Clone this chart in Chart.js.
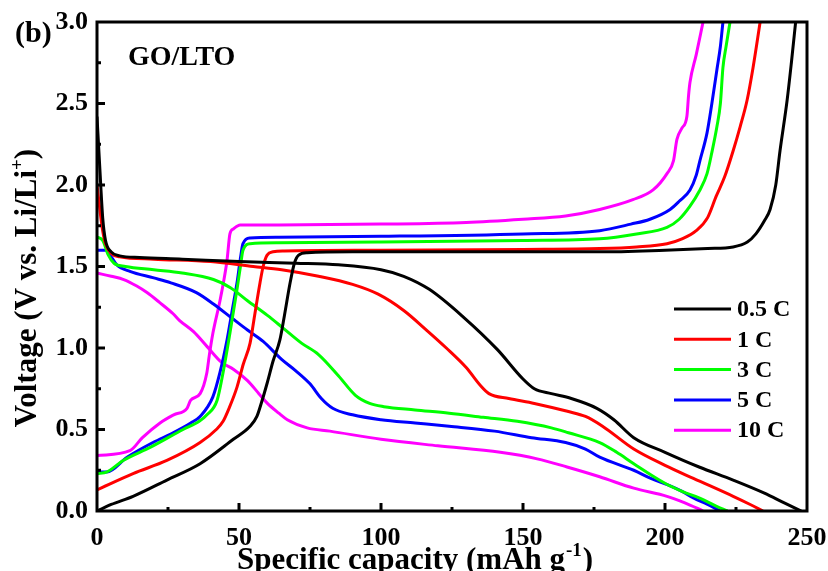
<!DOCTYPE html>
<html>
<head>
<meta charset="utf-8">
<script src="https://cdn.jsdelivr.net/npm/chart.js@4.4.0/dist/chart.umd.min.js"></script>
<style>
  html, body { margin: 0; padding: 0; background: #fff; }
  #wrap { width: 828px; height: 571px; }
</style>
</head>
<body>
<div id="wrap"><canvas id="gcdChart" width="828" height="571"></canvas></div>
<script>
// rate labels and colours
const rates = ["0.5 C", "1 C", "3 C", "5 C", "10 C"];
const rateColors = ["#000000", "#ff0000", "#00ff00", "#0000ff", "#ff00ff"];

// axis ticks
const xTicks = [0, 50, 100, 150, 200, 250];
const yTicks = [0.0, 0.5, 1.0, 1.5, 2.0, 2.5, 3.0];

// discharge curves [capacity, voltage]
const dis05 = [[0,2.42],[1,2.1],[2,1.8],[3,1.66],[5,1.59],[8,1.565],[15,1.555],[30,1.545],[50,1.53],[70,1.52],[85,1.51],[100,1.48],[108,1.44],[117,1.36],[129,1.19],[141,0.99],[150,0.81],[154,0.75],[160,0.72],[167,0.69],[176,0.63],[182,0.56],[189,0.45],[200,0.36],[212,0.27],[224,0.19],[235,0.11],[242,0.05],[248,0.0]];
const dis1 = [[0,2.0],[1,1.85],[2,1.72],[3,1.64],[5,1.58],[8,1.56],[20,1.545],[40,1.53],[55,1.5],[65,1.48],[78,1.44],[90,1.39],[99,1.33],[108,1.23],[116,1.11],[123,1.0],[130,0.88],[135,0.77],[138,0.72],[145,0.69],[154,0.66],[166,0.61],[172,0.58],[178,0.52],[189,0.38],[200,0.28],[210,0.2],[224,0.09],[230,0.04],[234.5,0.0]];
const dis3 = [[0,1.68],[2,1.66],[4,1.57],[6,1.52],[10,1.5],[20,1.48],[30,1.46],[41,1.42],[47,1.37],[53,1.29],[60,1.2],[65,1.13],[72,1.03],[78,0.96],[85,0.83],[91,0.71],[96,0.66],[101,0.64],[112,0.62],[124,0.6],[136,0.575],[148,0.55],[160,0.51],[166,0.48],[177,0.42],[183,0.36],[189,0.29],[200,0.17],[206,0.12],[212,0.08],[218,0.03],[222,0.0]];
const dis5 = [[0,1.6],[3.5,1.6],[5,1.56],[7,1.51],[11.6,1.47],[20,1.43],[26,1.4],[35,1.34],[41,1.27],[47,1.19],[53,1.11],[58.5,1.04],[65,0.93],[70,0.86],[75,0.78],[79,0.69],[83,0.63],[90,0.59],[100,0.56],[112,0.54],[124,0.52],[140,0.49],[153,0.45],[165,0.42],[172,0.38],[177,0.33],[189,0.25],[195,0.2],[201,0.16],[206,0.12],[210,0.08],[215,0.04],[219.5,0.0]];
const dis10 = [[0,1.46],[5,1.44],[9.4,1.42],[14,1.38],[17.6,1.34],[22,1.28],[26.8,1.21],[29,1.17],[34,1.1],[38.7,1.01],[44,0.91],[48,0.87],[53,0.8],[57,0.72],[60,0.66],[64,0.6],[67,0.56],[74,0.51],[82,0.49],[100,0.44],[120,0.4],[142,0.36],[155,0.32],[165.5,0.27],[177,0.21],[189,0.14],[200.7,0.09],[207,0.05],[213.4,0.0]];

// charge curves [capacity, voltage]
const chg05 = [[0,0.0],[5,0.04],[12.7,0.09],[24.6,0.19],[36.3,0.29],[48,0.44],[53.9,0.52],[56.3,0.58],[58,0.67],[60,0.79],[62,0.92],[64.4,1.05],[66,1.2],[68,1.4],[69.5,1.52],[71,1.57],[74,1.585],[90,1.59],[120,1.59],[150,1.59],[177,1.59],[200,1.6],[215,1.61],[224,1.62],[229,1.65],[232,1.7],[235,1.78],[237,1.85],[239,2.0],[240.5,2.21],[243,2.52],[244.5,2.75],[246,3.0]];
const chg1 = [[0,0.13],[12.7,0.23],[24.6,0.31],[36.3,0.42],[42,0.5],[44.4,0.55],[46.5,0.63],[49.3,0.76],[51.5,0.9],[53.9,1.03],[55.5,1.2],[57.4,1.4],[58.5,1.5],[59.9,1.57],[62,1.59],[66,1.595],[100,1.6],[150,1.605],[177,1.61],[190,1.62],[200.7,1.64],[206,1.67],[211,1.72],[215,1.8],[218,1.93],[221,2.05],[224,2.21],[226.5,2.36],[228.9,2.52],[231,2.72],[233.5,3.0]];
const chg3 = [[0,0.23],[3.5,0.24],[9.2,0.31],[18.7,0.39],[30.3,0.5],[36,0.55],[38.7,0.59],[42.3,0.68],[44.4,0.85],[46.8,1.09],[49.3,1.36],[50.5,1.5],[51.4,1.6],[53.9,1.64],[64,1.645],[100,1.65],[150,1.66],[177,1.67],[190,1.7],[200.7,1.74],[205,1.79],[208.8,1.87],[212,1.96],[214.8,2.07],[216.5,2.2],[218.3,2.36],[219.5,2.5],[220.4,2.72],[221.5,2.85],[222.9,3.0]];
const chg5 = [[0,0.24],[3.5,0.24],[10.6,0.33],[19.7,0.42],[26.8,0.48],[33,0.54],[36.3,0.58],[40.8,0.7],[43.3,0.85],[45.8,1.05],[47.5,1.22],[49.3,1.4],[50.5,1.55],[51.4,1.64],[53.9,1.675],[64,1.68],[100,1.685],[150,1.7],[177,1.72],[188,1.76],[194.7,1.79],[201.8,1.85],[205,1.9],[208.8,1.97],[211,2.06],[212.3,2.15],[214.8,2.32],[216.5,2.5],[218.3,2.71],[219.5,2.85],[220.4,3.0]];
const chg10 = [[0,0.34],[11.6,0.37],[16,0.45],[22.2,0.54],[27,0.59],[31.7,0.63],[33,0.68],[36.3,0.72],[38.7,0.85],[39.5,0.95],[40.8,1.09],[43.3,1.29],[44.5,1.4],[45.8,1.54],[46.8,1.7],[48,1.73],[50.4,1.755],[64,1.755],[100,1.76],[130,1.77],[150,1.79],[165,1.81],[177,1.85],[188.7,1.91],[195.8,1.97],[200.7,2.07],[203,2.15],[204.2,2.28],[206,2.35],[207.7,2.42],[208.3,2.55],[208.8,2.63],[211,2.8],[213.4,3.0]];

const dischargeCurves = [dis05, dis1, dis3, dis5, dis10];
const chargeCurves = [chg05, chg1, chg3, chg5, chg10];

const SERIF = "'Liberation Serif', 'Times New Roman', serif";

function toPoints(arr) {
  return arr.map((p) => ({ x: p[0], y: p[1] }));
}

const datasets = [];
rates.forEach((rate, i) => {
  [dischargeCurves[i], chargeCurves[i]].forEach((curve) => {
    datasets.push({
      label: rate,
      data: toPoints(curve),
      borderColor: rateColors[i],
      borderWidth: 3,
      pointRadius: 0,
      fill: false,
      cubicInterpolationMode: "monotone",
    });
  });
});

// frame, inward ticks, titles, legend and labels
const decorPlugin = {
  id: "decor",
  afterDraw(chart) {
    const ctx = chart.ctx;
    const a = chart.chartArea;
    const xs = chart.scales.x;
    const ys = chart.scales.y;
    ctx.save();
    ctx.strokeStyle = "#000";
    ctx.lineWidth = 3;
    ctx.strokeRect(a.left, a.top, a.right - a.left, a.bottom - a.top);

    for (let v = 25; v < 250; v += 25) {
      const px = xs.getPixelForValue(v);
      const len = v % 50 === 0 ? 8 : 4;
      ctx.beginPath();
      ctx.moveTo(px, a.bottom);
      ctx.lineTo(px, a.bottom - len);
      ctx.stroke();
    }
    for (let v = 0.25; v < 3; v += 0.25) {
      const py = ys.getPixelForValue(v);
      const len = Math.abs(v / 0.5 - Math.round(v / 0.5)) < 0.01 ? 8 : 4;
      ctx.beginPath();
      ctx.moveTo(a.left, py);
      ctx.lineTo(a.left + len, py);
      ctx.stroke();
    }

    ctx.fillStyle = "#000";
    ctx.textBaseline = "alphabetic";

    // x title
    ctx.font = "bold 31px " + SERIF;
    let x = 237;
    const xMain = "Specific capacity (mAh g";
    ctx.fillText(xMain, x, 569);
    x += ctx.measureText(xMain).width;
    ctx.font = "bold 19px " + SERIF;
    ctx.fillText("-1", x + 1, 556);
    x += ctx.measureText("-1").width + 2;
    ctx.font = "bold 31px " + SERIF;
    ctx.fillText(")", x, 569);

    // y title
    ctx.save();
    ctx.translate(36, 288);
    ctx.rotate(-Math.PI / 2);
    const yMain = "Voltage (V vs. Li/Li";
    ctx.font = "bold 31px " + SERIF;
    const w1 = ctx.measureText(yMain).width;
    ctx.font = "bold 19px " + SERIF;
    const w2 = ctx.measureText("+").width;
    ctx.font = "bold 31px " + SERIF;
    const w3 = ctx.measureText(")").width;
    let sx = -(w1 + w2 + w3) / 2;
    ctx.fillText(yMain, sx, 0);
    sx += w1;
    ctx.font = "bold 19px " + SERIF;
    ctx.fillText("+", sx, -13);
    sx += w2;
    ctx.font = "bold 31px " + SERIF;
    ctx.fillText(")", sx, 0);
    ctx.restore();

    // panel label and sample name
    ctx.font = "bold 30px " + SERIF;
    ctx.fillText("(b)", 15, 42);
    ctx.font = "bold 28px " + SERIF;
    ctx.fillText("GO/LTO", 128, 65);

    // legend
    ctx.font = "bold 24px " + SERIF;
    ctx.textBaseline = "middle";
    rates.forEach((rate, i) => {
      const ly = 309 + i * 30.3;
      ctx.strokeStyle = rateColors[i];
      ctx.lineWidth = 3;
      ctx.beginPath();
      ctx.moveTo(674, ly);
      ctx.lineTo(731, ly);
      ctx.stroke();
      ctx.fillText(rate, 737, ly + 1);
    });
    ctx.restore();
  },
};

new Chart(document.getElementById("gcdChart"), {
  type: "line",
  data: { datasets: datasets },
  options: {
    responsive: false,
    animation: false,
    layout: { padding: { top: 22, right: 21, left: 0, bottom: 0 } },
    plugins: {
      legend: { display: false },
      tooltip: { enabled: false },
    },
    scales: {
      x: {
        type: "linear",
        min: 0,
        max: 250,
        grid: { display: false, drawTicks: false },
        border: { display: false },
        afterFit: (scale) => {
          scale.height = 60;
          scale.paddingLeft = 0;
          scale.paddingRight = 0;
        },
        afterBuildTicks: (scale) => { scale.ticks = xTicks.map((v) => ({ value: v })); },
        ticks: {
          padding: 12,
          color: "#000",
          font: { family: SERIF, size: 26, weight: "bold" },
          callback: (v) => String(v),
        },
      },
      y: {
        type: "linear",
        min: 0,
        max: 3,
        grid: { display: false, drawTicks: false },
        border: { display: false },
        afterFit: (scale) => {
          scale.width = 97;
          scale.paddingTop = 0;
          scale.paddingBottom = 0;
        },
        afterBuildTicks: (scale) => { scale.ticks = yTicks.map((v) => ({ value: v })); },
        ticks: {
          padding: 9,
          color: "#000",
          font: { family: SERIF, size: 26, weight: "bold" },
          callback: (v) => Number(v).toFixed(1),
        },
      },
    },
  },
  plugins: [decorPlugin],
});
</script>
</body>
</html>
